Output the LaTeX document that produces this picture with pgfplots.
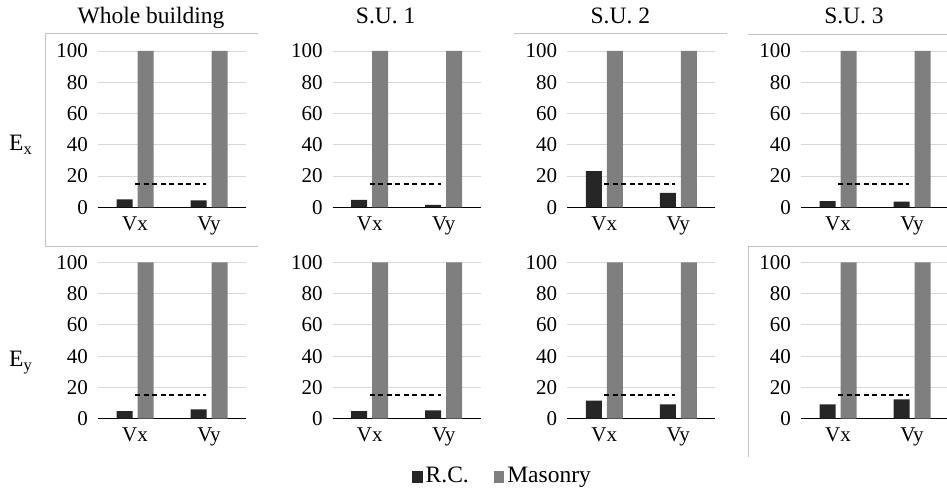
\documentclass[border=0pt]{standalone}
\usepackage{fontspec}
\setmainfont{Liberation Serif}
\usepackage{pgfplots}
\pgfplotsset{compat=1.18}
\definecolor{rc}{HTML}{262626}
\definecolor{mas}{HTML}{7F7F7F}
\definecolor{framec}{HTML}{C4C4C4}
\pgfplotsset{
 panel/.style={
  scale only axis, width=148pt, height=156.3pt,
  anchor=south west,
  xmin=-0.5, xmax=1.5, ymin=0, ymax=100,
  ybar, bar width=16pt,
  xtick={0,1}, xticklabels={Vx,Vy},
  ytick={0,20,40,60,80,100},
  axis lines*=left,
  y axis line style={draw=none},
  x axis line style={black, line width=1pt},
  major tick length=0pt,
  ymajorgrids, grid style={draw=black!15, line width=0.9pt},
  /pgf/number format/assume math mode=true,
  tick label style={font=\fontsize{21}{24}\selectfont},
  yticklabel={\pgfmathprintnumber{\tick}\hspace*{10pt}},
  yticklabel style={anchor=east, inner sep=0pt},
  xticklabel style={anchor=north, inner sep=0pt, text height=13.9pt, text depth=0pt, yshift=-9pt},
  title style={font=\fontsize{23.5}{28}\selectfont, at={(0.5,1)}, anchor=base, inner sep=0pt, yshift=21pt, xshift=-21pt},
  every axis y label/.style={at={(axis description cs:0,0.363)}, anchor=base west, inner sep=0pt, xshift=-89pt, font=\fontsize{23.5}{28}\selectfont},
  clip=false,
 },
}
% #1 x, #2 y, #3 R.C. Vx, #4 R.C. Vy, #5 extra options
\newcommand{\panel}[5]{%
\begin{axis}[panel, at={(#1,#2)}, #5]
\addplot[fill=rc, draw=none, bar shift=-10.5pt] coordinates {(0,#3) (1,#4)};
\addplot[fill=mas, draw=none, bar shift=10.5pt] coordinates {(0,100) (1,100)};
\addplot[sharp plot, forget plot, black, line width=1.6pt, dash pattern=on 5pt off 3.5pt] coordinates {(0,15) (0.96,15)};
\end{axis}}
\begin{document}
\begin{tikzpicture}[x=1pt,y=1pt]
\useasboundingbox (0,0) rectangle (947,490);
% light chart-area borders
\draw[framec, line width=0.8pt] (258,457) -- (45,457) -- (45,244) -- (258,244);
\draw[framec, line width=0.8pt] (514,457) -- (727,457);
\draw[framec, line width=0.8pt] (748,456) -- (947,456);
\draw[framec, line width=0.8pt] (947,244) -- (748,244) -- (748,33);
% top row: E_x
\panel{98pt}{282.7pt}{5.1}{4.5}{title={Whole building}, ylabel={E\textsubscript{x}}}
\panel{332.7pt}{282.7pt}{4.7}{1.5}{title={S.U. 1}}
\panel{567.3pt}{282.7pt}{23.2}{9.3}{title={S.U. 2}}
\panel{801pt}{282.7pt}{4.0}{3.6}{title={S.U. 3}}
% bottom row: E_y
\panel{98pt}{71.3pt}{4.9}{6.0}{ylabel={E\textsubscript{y}}, every axis y label/.append style={at={(axis description cs:0,0.335)}}}
\panel{332.7pt}{71.3pt}{4.9}{5.4}{legend entries={R.C.,Masonry},
  legend style={at={(0.536,-0.373)}, anchor=west, draw=none, fill=none, inner sep=0pt,
    legend columns=2, font=\fontsize{23.5}{28}\selectfont,
    nodes={inner sep=0pt, text height=11.5pt, text depth=0pt},
    /tikz/every even column/.append style={column sep=25pt},
    /tikz/every odd column/.append style={column sep=3pt}},
  legend image code/.code={\fill[#1] (0pt,-5.75pt) rectangle (10.5pt,5.75pt);}}
\panel{567.3pt}{71.3pt}{11.5}{9.2}{}
\panel{801pt}{71.3pt}{9.2}{12.4}{}
\end{tikzpicture}
\end{document}
